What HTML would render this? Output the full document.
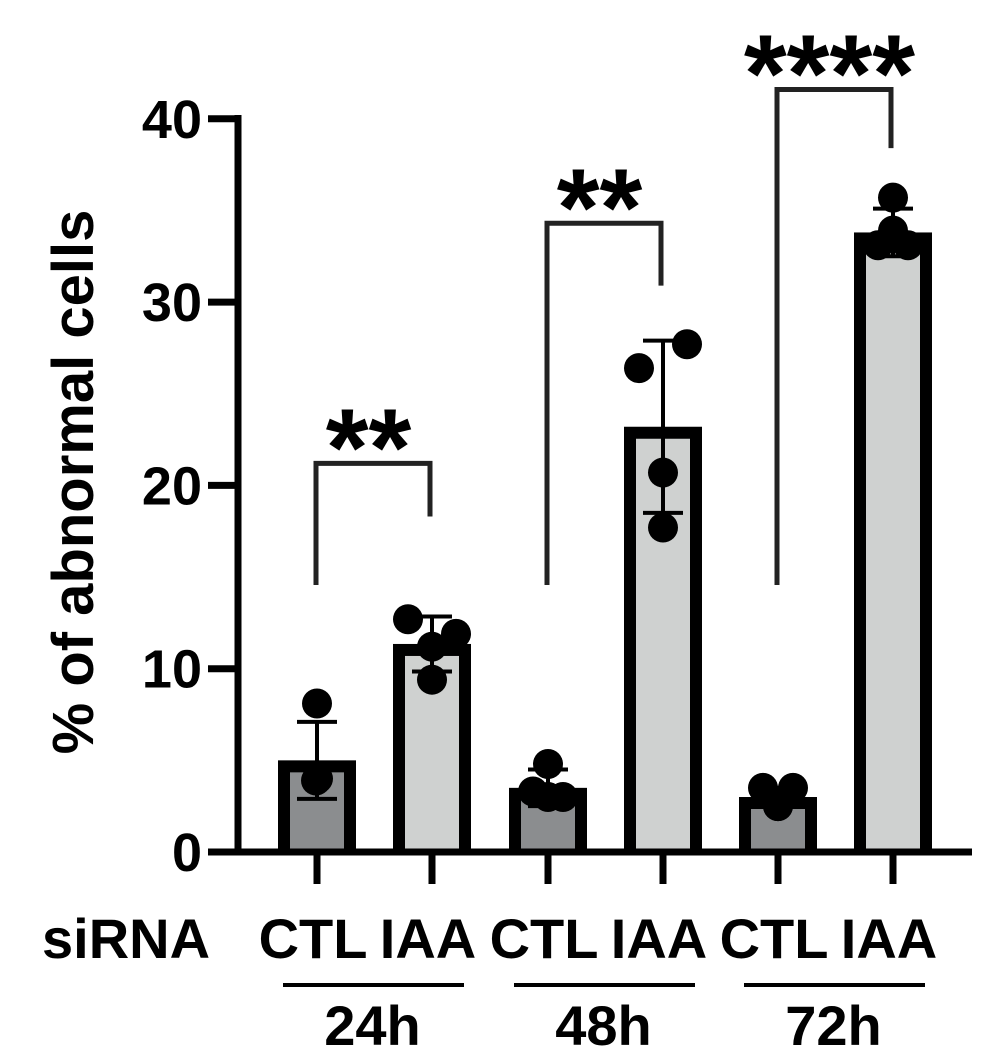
<!DOCTYPE html>
<html><head><meta charset="utf-8"><style>
body{margin:0;background:#fff}
svg text{font-family:"Liberation Sans",Arial,sans-serif;font-weight:bold;fill:#000}
</style></head><body>
<svg width="981" height="1053" viewBox="0 0 981 1053">
<g id="plot"></g>
</svg>
<script>
const categories=["CTL","IAA","CTL","IAA","CTL","IAA"];
const timepoints=["24h","48h","72h"];
const means=[5.0,11.35,3.5,23.2,3.0,33.8];
const sds=[2.1,1.5,1.0,4.7,0.5,1.3];
const points=[[8.1,3.9,4.0,4.0],[12.7,11.2,11.9,9.4],[4.8,3.3,3.0,3.0],[26.4,27.7,20.7,17.7],[3.5,3.5,2.5,2.5],[35.7,33.9,33.1,33.1]];
const yTicks=[0,10,20,30,40];
const stars=["**","**","****"];
const bracketTop=[21.2,34.3,41.6];
const bracketRight=[18.3,30.9,38.4];

const NS="http://www.w3.org/2000/svg";
const g=document.getElementById("plot");
const y0=852,pxPer=18.33;
const Y=v=>y0-v*pxPer;
const centers=[317,432,548,663,778,893];
const X=i=>centers[i];
function el(t,a,p){const e=document.createElementNS(NS,t);for(const k in a)e.setAttribute(k,a[k]);(p||g).appendChild(e);return e;}
const offs=[[0,-1,0,1],[-24,0,24,0],[0,-15,0,15],[-24,24,0,0],[-15,15,0,0],[0,0,-15,15]];
means.forEach((m,i)=>{
  const cx=X(i),fill=i%2?"#cfd1d0":"#8b8d8f";
  const b=el("rect",{x:cx-39,y:Y(m),width:78,height:y0-Y(m),fill:"#000"});
  
  
  const inner=el("rect",{x:cx-27,y:Y(m)+12,width:54,height:Math.max(0,y0-Y(m)-12),fill:fill});
  
  
  const e=el("path",{d:`M${cx},${Y(m+sds[i])}V${Y(m-sds[i])}M${cx-20},${Y(m+sds[i])}H${cx+20}M${cx-20},${Y(m-sds[i])}H${cx+20}`,stroke:"#000","stroke-width":4,fill:"none"});
  
  
  points[i].forEach((v,j)=>{
    const c=el("circle",{cx:cx+offs[i][j],cy:Y(v),r:15,fill:"#000"});
    
    
  });
});
const ax=el("path",{d:`M238,115V855M234,${y0}H972`,stroke:"#000","stroke-width":7,fill:"none"});


yTicks.forEach(t=>{
  const tk=el("line",{x1:208,x2:238,y1:Y(t),y2:Y(t),stroke:"#000","stroke-width":7});
  
  
  const tl=el("text",{x:202,y:Y(t)+19,"text-anchor":"end","font-size":54});
  tl.textContent=t;
  
  
});
centers.forEach((c,i)=>{
  const tk=el("line",{x1:c,x2:c,y1:y0,y2:884,stroke:"#000","stroke-width":7});
  
  
  const tl=el("text",{x:c-4,y:958,"text-anchor":"middle","font-size":56});
  tl.textContent=categories[i];
  
  
});
timepoints.forEach((t,k)=>{
  const a=X(2*k),b=X(2*k+1);
  const ln=el("line",{x1:a-34,x2:b+32,y1:985,y2:985,stroke:"#000","stroke-width":4});
  
  
  const tl=el("text",{x:(a+b)/2-2,y:1045,"text-anchor":"middle","font-size":56});
  tl.textContent=t;
  
  
  const yt=Y(bracketTop[k]);
  const br=el("path",{d:`M${a-1},585V${yt}H${b-2}V${Y(bracketRight[k])}`,stroke:"#222","stroke-width":5,fill:"none"});
  
  
  const st=el("text",{x:(a+b)/2-6,y:yt+22,"text-anchor":"middle","font-size":110});
  st.textContent=stars[k];
  
  
});
const s=el("text",{x:42,y:958,"font-size":56});
s.textContent="siRNA";


const yt=el("text",{x:0,y:0,"text-anchor":"middle","font-size":58,transform:"translate(93,482) rotate(-90)"});
yt.textContent="% of abnormal cells";


</script>
</body></html>
